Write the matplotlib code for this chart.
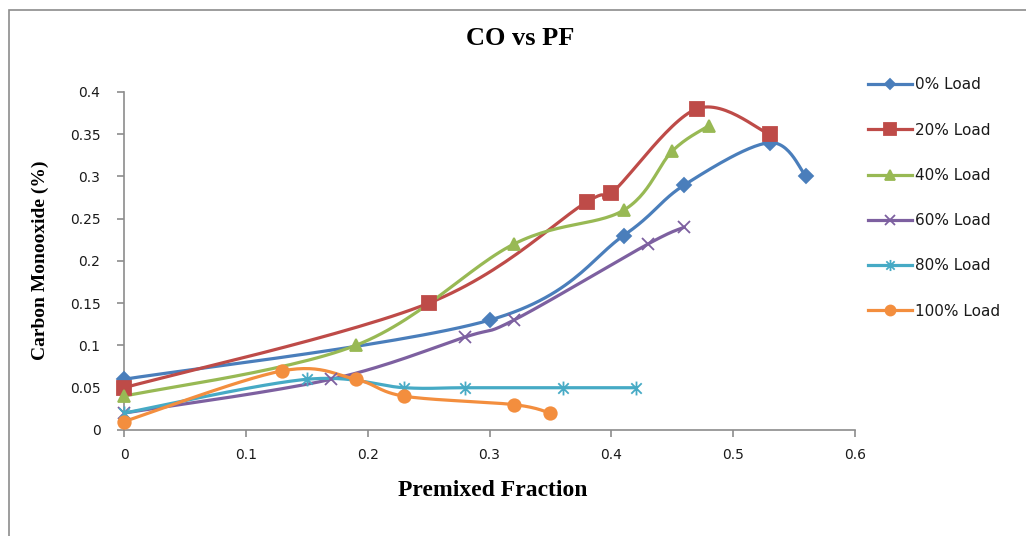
import numpy as np
import matplotlib
matplotlib.use("Agg")
import matplotlib.pyplot as plt
from matplotlib.path import Path
from matplotlib.patches import Rectangle

# data
labels = ["0% Load", "20% Load", "40% Load", "60% Load", "80% Load", "100% Load"]

x_0 = [0, 0.30, 0.41, 0.46, 0.53, 0.56]
y_0 = [0.06, 0.13, 0.23, 0.29, 0.34, 0.30]

x_20 = [0, 0.25, 0.38, 0.40, 0.47, 0.53]
y_20 = [0.05, 0.15, 0.27, 0.28, 0.38, 0.35]

x_40 = [0, 0.19, 0.32, 0.41, 0.45, 0.48]
y_40 = [0.04, 0.10, 0.22, 0.26, 0.33, 0.36]

x_60 = [0, 0.17, 0.28, 0.32, 0.43, 0.46]
y_60 = [0.02, 0.06, 0.11, 0.13, 0.22, 0.24]

x_80 = [0, 0.15, 0.23, 0.28, 0.36, 0.42]
y_80 = [0.02, 0.06, 0.05, 0.05, 0.05, 0.05]

x_100 = [0, 0.13, 0.19, 0.23, 0.32, 0.35]
y_100 = [0.01, 0.07, 0.06, 0.04, 0.03, 0.02]

xs = [x_0, x_20, x_40, x_60, x_80, x_100]
ys = [y_0, y_20, y_40, y_60, y_80, y_100]

colors = ["#4A7EBB", "#BE4B48", "#98B954", "#7D60A0", "#46AAC5", "#F38E3E"]

# Excel style asterisk marker: X with a vertical bar
star = Path([(0, -1), (0, 1), (-0.75, -0.75), (0.75, 0.75), (-0.75, 0.75), (0.75, -0.75)],
            [Path.MOVETO, Path.LINETO, Path.MOVETO, Path.LINETO, Path.MOVETO, Path.LINETO])
markers = ["D", "s", "^", "x", star, "o"]
msizes = [7, 10, 9, 9, 10, 9]


def smooth(x, y, n=30):
    # bezier smoothing similar to excel's "smoothed line"
    p = np.column_stack([x, y]).astype(float)
    ext = np.vstack([p[0], p, p[-1]])
    out = []
    t = np.linspace(0, 1, n)[:, None]
    for i in range(len(p) - 1):
        p0, p1, p2, p3 = ext[i], ext[i + 1], ext[i + 2], ext[i + 3]
        c1 = p1 + (p2 - p0) / 6
        c2 = p2 - (p3 - p1) / 6
        seg = ((1 - t) ** 3) * p1 + 3 * ((1 - t) ** 2) * t * c1 + 3 * (1 - t) * t ** 2 * c2 + t ** 3 * p2
        out.append(seg)
    out = np.vstack(out)
    return out[:, 0], out[:, 1]


fig = plt.figure(figsize=(10.26, 5.36), dpi=100)
ax = fig.add_axes([0.1209, 0.1978, 0.7124, 0.6306])

for x, y, c, m, ms, lab in zip(xs, ys, colors, markers, msizes, labels):
    sx, sy = smooth(x, y)
    ax.plot(sx, sy, color=c, lw=2.3, solid_capstyle="round", zorder=2)
    ax.plot(x, y, linestyle="none", marker=m, markersize=ms, color=c,
            markeredgecolor=c, markeredgewidth=1.3, zorder=3, clip_on=False)
    ax.plot([], [], color=c, lw=2.3, marker=m, markersize=ms * 0.8,
            markeredgewidth=1.3, label=lab)

ax.set_xlim(0, 0.6)
ax.set_ylim(0, 0.4)
ax.set_xticks(np.arange(0, 0.61, 0.1))
ax.set_xticklabels(["0", "0.1", "0.2", "0.3", "0.4", "0.5", "0.6"])
ax.set_yticks(np.arange(0, 0.401, 0.05))
ax.set_yticklabels(["0", "0.05", "0.1", "0.15", "0.2", "0.25", "0.3", "0.35", "0.4"])
for s in ["top", "right"]:
    ax.spines[s].set_visible(False)
for s in ["left", "bottom"]:
    ax.spines[s].set_color("#8C8C8C")
    ax.spines[s].set_linewidth(1.2)
ax.tick_params(direction="out", length=5, width=1.2, color="#8C8C8C",
               labelsize=10, labelcolor="#1A1A1A")
ax.tick_params(axis="x", pad=8)
ax.tick_params(axis="y", pad=12)

fig.text(0.507, 0.929, "CO vs PF", ha="center", va="center",
         fontsize=19, fontweight="bold", family="Liberation Serif")
fig.text(0.480, 0.085, "Premixed Fraction", ha="center", va="center",
         fontsize=17, fontweight="bold", family="Liberation Serif")
fig.text(0.039, 0.515, "Carbon Monooxide (%)", ha="center", va="center",
         rotation=90, fontsize=14, fontweight="bold", family="Liberation Serif")

leg = ax.legend(loc="upper left", bbox_to_anchor=(0.840, 0.867), bbox_transform=fig.transFigure,
                frameon=False, fontsize=11, labelspacing=1.98, handlelength=2.9,
                handletextpad=0.2, borderaxespad=0)
for t in leg.get_texts():
    t.set_color("#1A1A1A")

# outer chart border
fig.patches.append(Rectangle((9 / 1026, -0.5), 2, 0.5 + 1 - 10 / 536,
                             transform=fig.transFigure, fill=False,
                             edgecolor="#8C8C8C", lw=1.2))

fig.savefig("out.png", dpi=100)
